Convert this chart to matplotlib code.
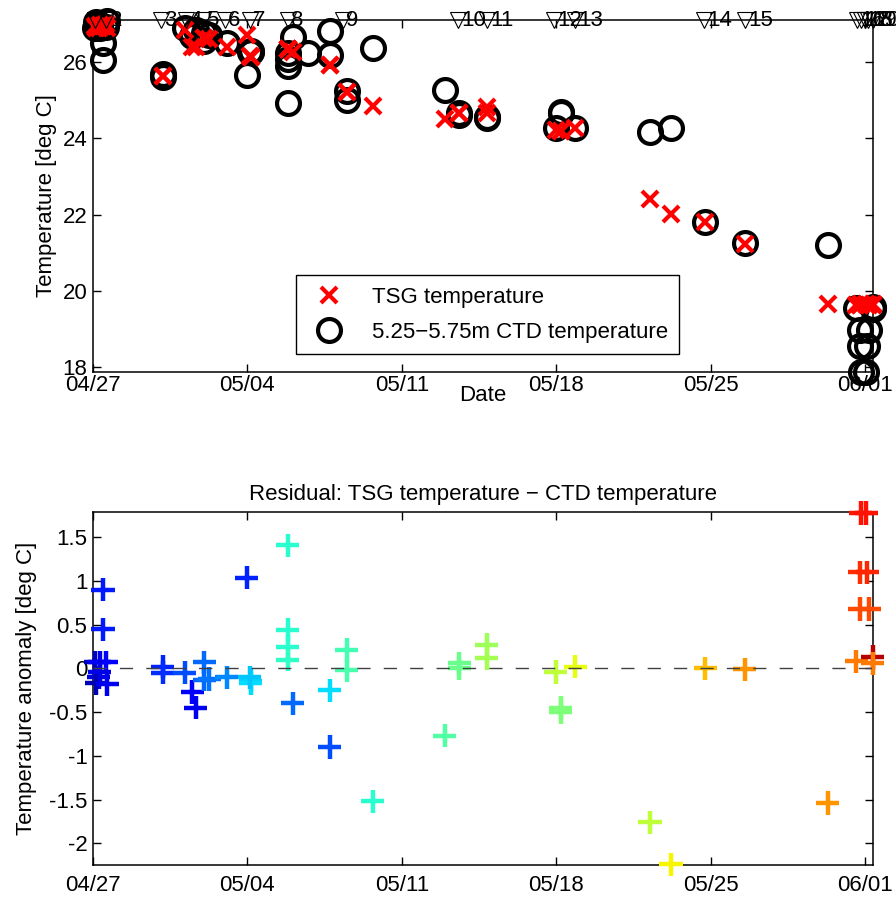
import numpy as np
import matplotlib
matplotlib.use("Agg")
import matplotlib.pyplot as plt
import matplotlib.dates as mdates
from matplotlib.ticker import FuncFormatter
from matplotlib.lines import Line2D
import datetime as dt

plt.rcParams['font.family'] = ['Liberation Sans', 'DejaVu Sans']
plt.rcParams['font.size'] = 16
plt.rcParams['axes.unicode_minus'] = False

start = dt.datetime(2013, 4, 27)

# casts: days since 04/27, TSG temperature, CTD temperature (5.25-5.75 m), colour index
cast_day = [0.45, 0.45, 0.10, 0.30, 0.60, 0.25, 0.15, 0.65, 0.30,
            3.16, 3.16,
            4.15, 4.50, 4.65, 5.05, 5.05, 5.28,
            6.06,
            6.97, 7.15, 7.15, 7.10,
            8.82, 8.82, 8.82, 8.82, 9.05, 9.73,
            10.73, 10.73, 11.50, 11.50, 12.68,
            15.95, 16.60, 16.60,
            17.85, 17.85,
            20.97, 21.20, 21.20, 21.86,
            25.25, 26.20, 27.76, 29.55, 33.31,
            34.60, 34.75, 35.20, 34.75, 35.10, 34.80, 35.05, 35.35, 35.35]
tsg_temp = [26.95, 26.95, 26.95, 26.97, 27.00, 26.90, 26.88, 26.90, 26.92,
            25.63, 25.63,
            26.85, 26.40, 26.40, 26.62, 26.62, 26.60,
            26.40,
            26.70, 26.13, 26.13, 26.15,
            26.33, 26.33, 26.33, 26.33, 26.25, np.nan,
            25.92, 25.92, 25.22, 25.22, 24.85,
            24.50, 24.66, 24.66,
            24.82, 24.65,
            24.22, 24.18, 24.20, 24.28,
            22.40, 22.02, 21.80, 21.24, 19.66,
            19.64, 19.64, 19.64, 19.64, 19.64, 19.66, 19.66, 19.66, 19.64]
ctd_temp = [26.05, 26.50, 26.88, 26.90, 26.93, 27.00, 27.05, 27.08, 26.96,
            25.61, 25.68,
            26.90, 26.67, 26.85, 26.55, 26.75, 26.72,
            26.50,
            25.66, 26.27, 26.30, 26.25,
            24.92, 25.89, 26.08, 26.23, 26.65, 26.24,
            26.82, 26.17, 25.01, 25.24, 26.37,
            25.27, 24.60, 24.66,
            24.55, 24.53,
            24.26, 24.68, 24.65, 24.26,
            24.16, 24.26, 21.80, 21.25, 21.20,
            19.56, 18.96, 18.96, 18.54, 18.54, 17.88, 17.88, 19.53, 19.58]
cast_color = [0.15, 0.15, 0.06, 0.10, 0.12, 0.08, 0.05, 0.10, 0.09,
              0.16, 0.17,
              0.20, 0.12, 0.10, 0.23, 0.23, 0.24,
              0.26,
              0.16, 0.33, 0.34, 0.32,
              0.40, 0.40, 0.40, 0.41, 0.23, 0.40,
              0.20, 0.34, 0.43, 0.44, 0.40,
              0.45, 0.48, 0.48,
              0.54, 0.55,
              0.58, 0.50, 0.50, 0.63,
              0.58, 0.65, 0.71, 0.75, 0.75,
              0.78, 0.83, 0.83, 0.86, 0.87, 0.89, 0.89, 0.95, 0.78]

# stations: days since 04/27
station_day = [0.10, 0.60, 3.07, 4.20, 4.97, 5.97, 7.10, 8.82, 11.32, 16.53,
               17.85, 20.89, 21.84, 27.69, 29.55, 34.63, 34.80, 35.00, 35.15, 35.35]
station_lbl = [str(i + 1) for i in range(20)]

x0 = mdates.date2num(start)
cx = x0 + np.array(cast_day)
tsg = np.array(tsg_temp)
ctd = np.array(ctd_temp)
resid = tsg - ctd
ok = ~np.isnan(resid)
sx = x0 + np.array(station_day)

fig = plt.figure(figsize=(8.96, 8.98), dpi=100)
ax1 = fig.add_axes([0.1038, 0.5857, 0.8705, 0.392])
ax2 = fig.add_axes([0.1038, 0.0367, 0.8705, 0.3931])

xlim = (x0, x0 + 35.36)

# top panel
ax1.plot(cx, ctd, 'o', ms=16.5, mfc='none', mec='k', mew=3, ls='none', clip_on=False, zorder=3)
ax1.plot(cx, tsg, 'x', ms=12, color='r', mew=3, ls='none', clip_on=False, zorder=4)
ytop = 27.1
ax1.set_ylim(17.87, ytop)
ax1.set_xlim(*xlim)
ax1.plot(sx, [ytop] * len(sx), 'v', ms=11, mfc='none', mec='k', mew=0.8, ls='none',
         clip_on=False, zorder=5)
for x, s in zip(sx, station_lbl):
    ax1.annotate(s, (x, ytop), xytext=(2.5, 0), textcoords='offset points',
                 ha='left', va='center', fontsize=16, annotation_clip=False)
ax1.set_ylabel('Temperature [deg C]')
ax1.set_xlabel('Date', labelpad=-7.5)
ax1.set_yticks([18, 20, 22, 24, 26])
h = [Line2D([], [], marker='x', color='r', ls='none', ms=12, mew=3),
     Line2D([], [], marker='o', mfc='none', mec='k', ls='none', ms=16.5, mew=3)]
leg = ax1.legend(h, ['TSG temperature', '5.25\u22125.75m CTD temperature'],
                 loc='lower center', bbox_to_anchor=(0.5058, 0.051), fancybox=False,
                 edgecolor='k', framealpha=1, fontsize=16, handletextpad=0.9,
                 borderpad=0.5, labelspacing=0.65, borderaxespad=0)
leg.get_frame().set_linewidth(1.0)

# bottom panel
ax2.scatter(cx[ok], resid[ok], c=np.array(cast_color)[ok], cmap='jet', vmin=0, vmax=1,
            marker='+', s=280, linewidths=3.2, clip_on=False, zorder=3)
ax2.axhline(0, color='0.25', lw=1.0, ls=(0, (9.5, 9.5)), zorder=4)
ax2.set_xlim(*xlim)
ax2.set_ylim(-2.25, 1.79)
ax2.set_yticks([-2, -1.5, -1, -0.5, 0, 0.5, 1, 1.5])
ax2.yaxis.set_major_formatter(FuncFormatter(lambda v, p: '%g' % v))
ax2.set_ylabel('Temperature anomaly [deg C]', labelpad=9)
ax2.set_title('Residual: TSG temperature \u2212 CTD temperature', fontsize=16, pad=9)

for ax in (ax1, ax2):
    ax.set_xticks([x0 + 7 * k for k in range(6)])
    ax.xaxis.set_major_formatter(mdates.DateFormatter('%m/%d'))
    ax.tick_params(direction='in', length=6, width=1, top=True, right=True, pad=4)
    for sp in ax.spines.values():
        sp.set_linewidth(1.1)
ax1.tick_params(axis='x', pad=2)
ax2.tick_params(axis='x', pad=7)

fig.savefig('out.png', dpi=100)
